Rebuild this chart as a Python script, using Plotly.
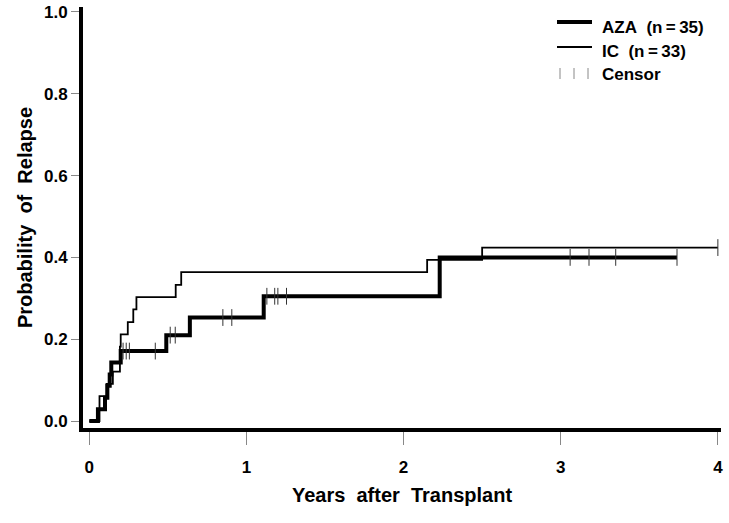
import numpy as np
import plotly.graph_objects as go

# ---- data ----
aza_t = [0, 0.055, 0.10, 0.115, 0.13, 0.14, 0.20, 0.49, 0.64, 1.11, 2.23, 3.74]
aza_p = [0, 0.029, 0.057, 0.086, 0.114, 0.143, 0.171, 0.21, 0.253, 0.305, 0.40, 0.40]

ic_t = [0, 0.065, 0.11, 0.15, 0.195, 0.20, 0.245, 0.28, 0.30, 0.55, 0.585, 2.15, 2.50, 4.0]
ic_p = [0, 0.061, 0.091, 0.121, 0.182, 0.212, 0.242, 0.273, 0.303, 0.333, 0.364, 0.394, 0.424, 0.424]

aza_cens_t = [0.215, 0.235, 0.255, 0.42, 0.515, 0.547, 0.85, 0.907,
              1.13, 1.18, 1.20, 1.255, 3.06, 3.18, 3.35, 3.74]
ic_cens_t = [4.0]

x_ticks = [0, 1, 2, 3, 4]
y_ticks = [0.0, 0.2, 0.4, 0.6, 0.8, 1.0]
y_tick_labels = ["0.0", "0.2", "0.4", "0.6", "0.8", "1.0"]

legend_labels = ["AZA\u00a0\u00a0(n\u2009=\u200935)", "IC\u00a0\u00a0(n\u2009=\u200933)", "Censor"]


def step_value(ts, ps, t):
    i = np.searchsorted(np.asarray(ts), t, side="right") - 1
    return ps[max(i, 0)]


aza_cens_p = [step_value(aza_t, aza_p, t) for t in aza_cens_t]
ic_cens_p = [step_value(ic_t, ic_p, t) for t in ic_cens_t]

FONT = "Liberation Sans, Arial, sans-serif"

fig = go.Figure()
fig.add_trace(go.Scatter(x=ic_t, y=ic_p, mode="lines", line=dict(color="black", width=1.8, shape="hv"),
                         showlegend=False, hoverinfo="skip"))
fig.add_trace(go.Scatter(x=aza_t, y=aza_p, mode="lines", line=dict(color="black", width=4, shape="hv"),
                         showlegend=False, hoverinfo="skip"))
cens_marker = dict(symbol="line-ns", size=12, color="#333", line=dict(width=1, color="#333"))
fig.add_trace(go.Scatter(x=aza_cens_t, y=aza_cens_p, mode="markers", marker=cens_marker,
                         showlegend=False, hoverinfo="skip"))
fig.add_trace(go.Scatter(x=ic_cens_t, y=ic_cens_p, mode="markers", marker=cens_marker,
                         showlegend=False, hoverinfo="skip"))

W, H = 729, 523
L, R, T, B = 83, 8, 7, 95


def px(x):  # pixel -> paper x
    return (x - L) / (W - L - R)


def py(y):  # pixel -> paper y
    return (H - B - y) / (H - T - B)


shapes = [
    dict(type="line", xref="paper", yref="paper", x0=px(557), x1=px(592), y0=py(22), y1=py(22),
         line=dict(color="black", width=4)),
    dict(type="line", xref="paper", yref="paper", x0=px(557), x1=px(592), y0=py(47), y1=py(47),
         line=dict(color="black", width=1.8)),
]
for cx in [560, 574, 588]:
    shapes.append(dict(type="line", xref="paper", yref="paper", x0=px(cx), x1=px(cx), y0=py(68), y1=py(79),
                       line=dict(color="#888", width=1)))

annotations = []
for lbl, yy in zip(legend_labels, [27, 51, 75]):
    annotations.append(dict(text=lbl, xref="paper", yref="paper", x=px(600), y=py(yy), xanchor="left",
                            yanchor="middle", showarrow=False,
                            font=dict(family=FONT, size=17, color="black", weight="bold")))

fig.update_layout(
    width=W, height=H,
    margin=dict(l=L, r=R, t=T, b=B, pad=0, autoexpand=False),
    plot_bgcolor="white", paper_bgcolor="white",
    font=dict(family=FONT, size=17, color="black", weight="bold"),
    shapes=shapes, annotations=annotations,
    xaxis=dict(range=[-0.04, 4.02], tickvals=x_ticks, ticktext=[str(v) for v in x_ticks],
               automargin=False, ticklabeloverflow="allow",
               showgrid=False, zeroline=False, showline=True, linecolor="black", linewidth=4,
               ticks="outside", ticklen=13, tickwidth=1, tickcolor="#888", ticklabelstandoff=8,
               tickfont=dict(family=FONT, size=17, weight="bold"),
               title=dict(text="Years\u00a0\u00a0after\u00a0\u00a0Transplant", standoff=13,
                          font=dict(family=FONT, size=20, weight="bold"))),
    yaxis=dict(range=[-0.017, 1.012], tickvals=y_ticks, ticktext=y_tick_labels,
               automargin=False, ticklabeloverflow="allow",
               showgrid=False, zeroline=False, showline=True, linecolor="black", linewidth=4,
               ticks="outside", ticklen=8, tickwidth=1, tickcolor="#888", ticklabelstandoff=0,
               tickfont=dict(family=FONT, size=17, weight="bold"),
               title=dict(text="Probability\u00a0\u00a0of\u00a0\u00a0Relapse", standoff=7,
                          font=dict(family=FONT, size=20, weight="bold"))),
)

# remove the default 8px body margin of the page so the figure sits at the window's corner
fig.write_html("out.html", config={"displayModeBar": False},
               post_script="document.body.style.margin='0';")
